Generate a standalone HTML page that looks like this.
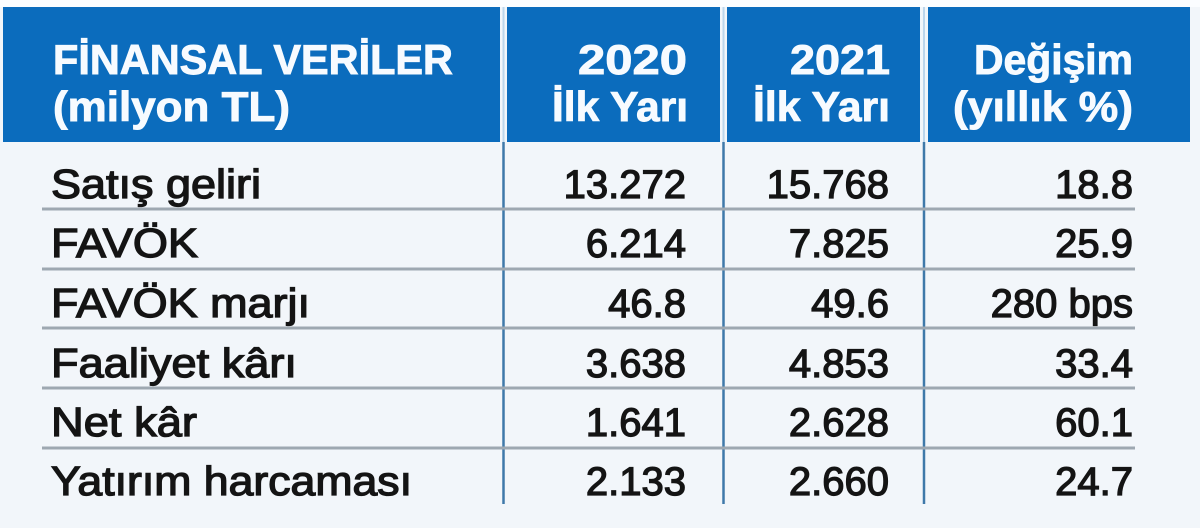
<!DOCTYPE html>
<html>
<head>
<meta charset="utf-8">
<style>
  html,body{margin:0;padding:0;background:#f2f6fa;}
  svg{display:block;}
  .h{font-family:"Liberation Sans",sans-serif;font-weight:bold;font-size:42px;fill:#f7fbff;stroke:#f7fbff;stroke-width:0.9px;}
  .b{font-family:"Liberation Sans",sans-serif;font-size:40px;fill:#141414;stroke:#141414;stroke-width:1.3px;}
  .l{font-size:41px;}
</style>
</head>
<body>
<svg width="1200" height="528" viewBox="0 0 1200 528" xmlns="http://www.w3.org/2000/svg">
  <rect x="0" y="0" width="1200" height="528" fill="#f2f6fa"/>
  <rect x="0" y="0" width="1200" height="7" fill="#fbfdff"/>
  <!-- header blocks -->
  <rect x="3" y="7" width="497" height="135" fill="#0b6cbd"/>
  <rect x="507" y="7" width="213" height="135" fill="#0b6cbd"/>
  <rect x="727" y="7" width="193" height="135" fill="#0b6cbd"/>
  <rect x="928" y="7" width="262" height="135" fill="#0b6cbd"/>
  <!-- header gap lines -->
  <line x1="503.5" y1="7" x2="503.5" y2="142" stroke="#bcd6ec" stroke-width="2"/>
  <line x1="723.5" y1="7" x2="723.5" y2="142" stroke="#bcd6ec" stroke-width="2"/>
  <line x1="924" y1="7" x2="924" y2="142" stroke="#bcd6ec" stroke-width="2"/>

  <!-- body vertical lines -->
  <line x1="503.5" y1="142" x2="503.5" y2="504" stroke="#3f79a9" stroke-width="2.5"/>
  <line x1="723.5" y1="142" x2="723.5" y2="504" stroke="#3f79a9" stroke-width="2.5"/>
  <line x1="924" y1="142" x2="924" y2="504" stroke="#3f79a9" stroke-width="2.5"/>

  <!-- row lines -->
  <g stroke="#9ea8b1" stroke-width="3">
    <line x1="42" y1="209" x2="1135" y2="209"/>
    <line x1="42" y1="269" x2="1135" y2="269"/>
    <line x1="42" y1="328" x2="1135" y2="328"/>
    <line x1="42" y1="388" x2="1135" y2="388"/>
    <line x1="42" y1="448" x2="1135" y2="448"/>
  </g>

  <!-- header text -->
  <text class="h" x="53" y="74" textLength="400" lengthAdjust="spacingAndGlyphs">FİNANSAL VERİLER</text>
  <text class="h" x="53" y="121" textLength="237" lengthAdjust="spacingAndGlyphs">(milyon TL)</text>

  <text class="h" x="578" y="74" textLength="109" lengthAdjust="spacingAndGlyphs">2020</text>
  <text class="h" x="552" y="121" textLength="136" lengthAdjust="spacingAndGlyphs">İlk Yarı</text>

  <text class="h" x="790" y="74" textLength="100" lengthAdjust="spacingAndGlyphs">2021</text>
  <text class="h" x="753" y="121" textLength="137" lengthAdjust="spacingAndGlyphs">İlk Yarı</text>

  <text class="h" x="974" y="74" textLength="159" lengthAdjust="spacingAndGlyphs">Değişim</text>
  <text class="h" x="953" y="121" textLength="180" lengthAdjust="spacingAndGlyphs">(yıllık %)</text>

  <!-- body rows -->
  <g class="b l">
    <text x="51" y="198" textLength="210" lengthAdjust="spacingAndGlyphs">Satış geliri</text>
    <text x="51" y="257" textLength="147" lengthAdjust="spacingAndGlyphs">FAVÖK</text>
    <text x="51" y="317" textLength="259" lengthAdjust="spacingAndGlyphs">FAVÖK marjı</text>
    <text x="51" y="377" textLength="246" lengthAdjust="spacingAndGlyphs">Faaliyet kârı</text>
    <text x="51" y="436" textLength="146" lengthAdjust="spacingAndGlyphs">Net kâr</text>
    <text x="51" y="495" textLength="361" lengthAdjust="spacingAndGlyphs">Yatırım harcaması</text>
  </g>
  <g class="b" text-anchor="end">
    <text x="686" y="198">13.272</text>
    <text x="686" y="257">6.214</text>
    <text x="686" y="317">46.8</text>
    <text x="686" y="377">3.638</text>
    <text x="686" y="436">1.641</text>
    <text x="686" y="495">2.133</text>

    <text x="889" y="198">15.768</text>
    <text x="889" y="257">7.825</text>
    <text x="889" y="317">49.6</text>
    <text x="889" y="377">4.853</text>
    <text x="889" y="436">2.628</text>
    <text x="889" y="495">2.660</text>

    <text x="1133" y="198">18.8</text>
    <text x="1133" y="257">25.9</text>
    <text x="1133" y="317">280 bps</text>
    <text x="1133" y="377">33.4</text>
    <text x="1133" y="436">60.1</text>
    <text x="1133" y="495">24.7</text>
  </g>
</svg>
</body>
</html>
